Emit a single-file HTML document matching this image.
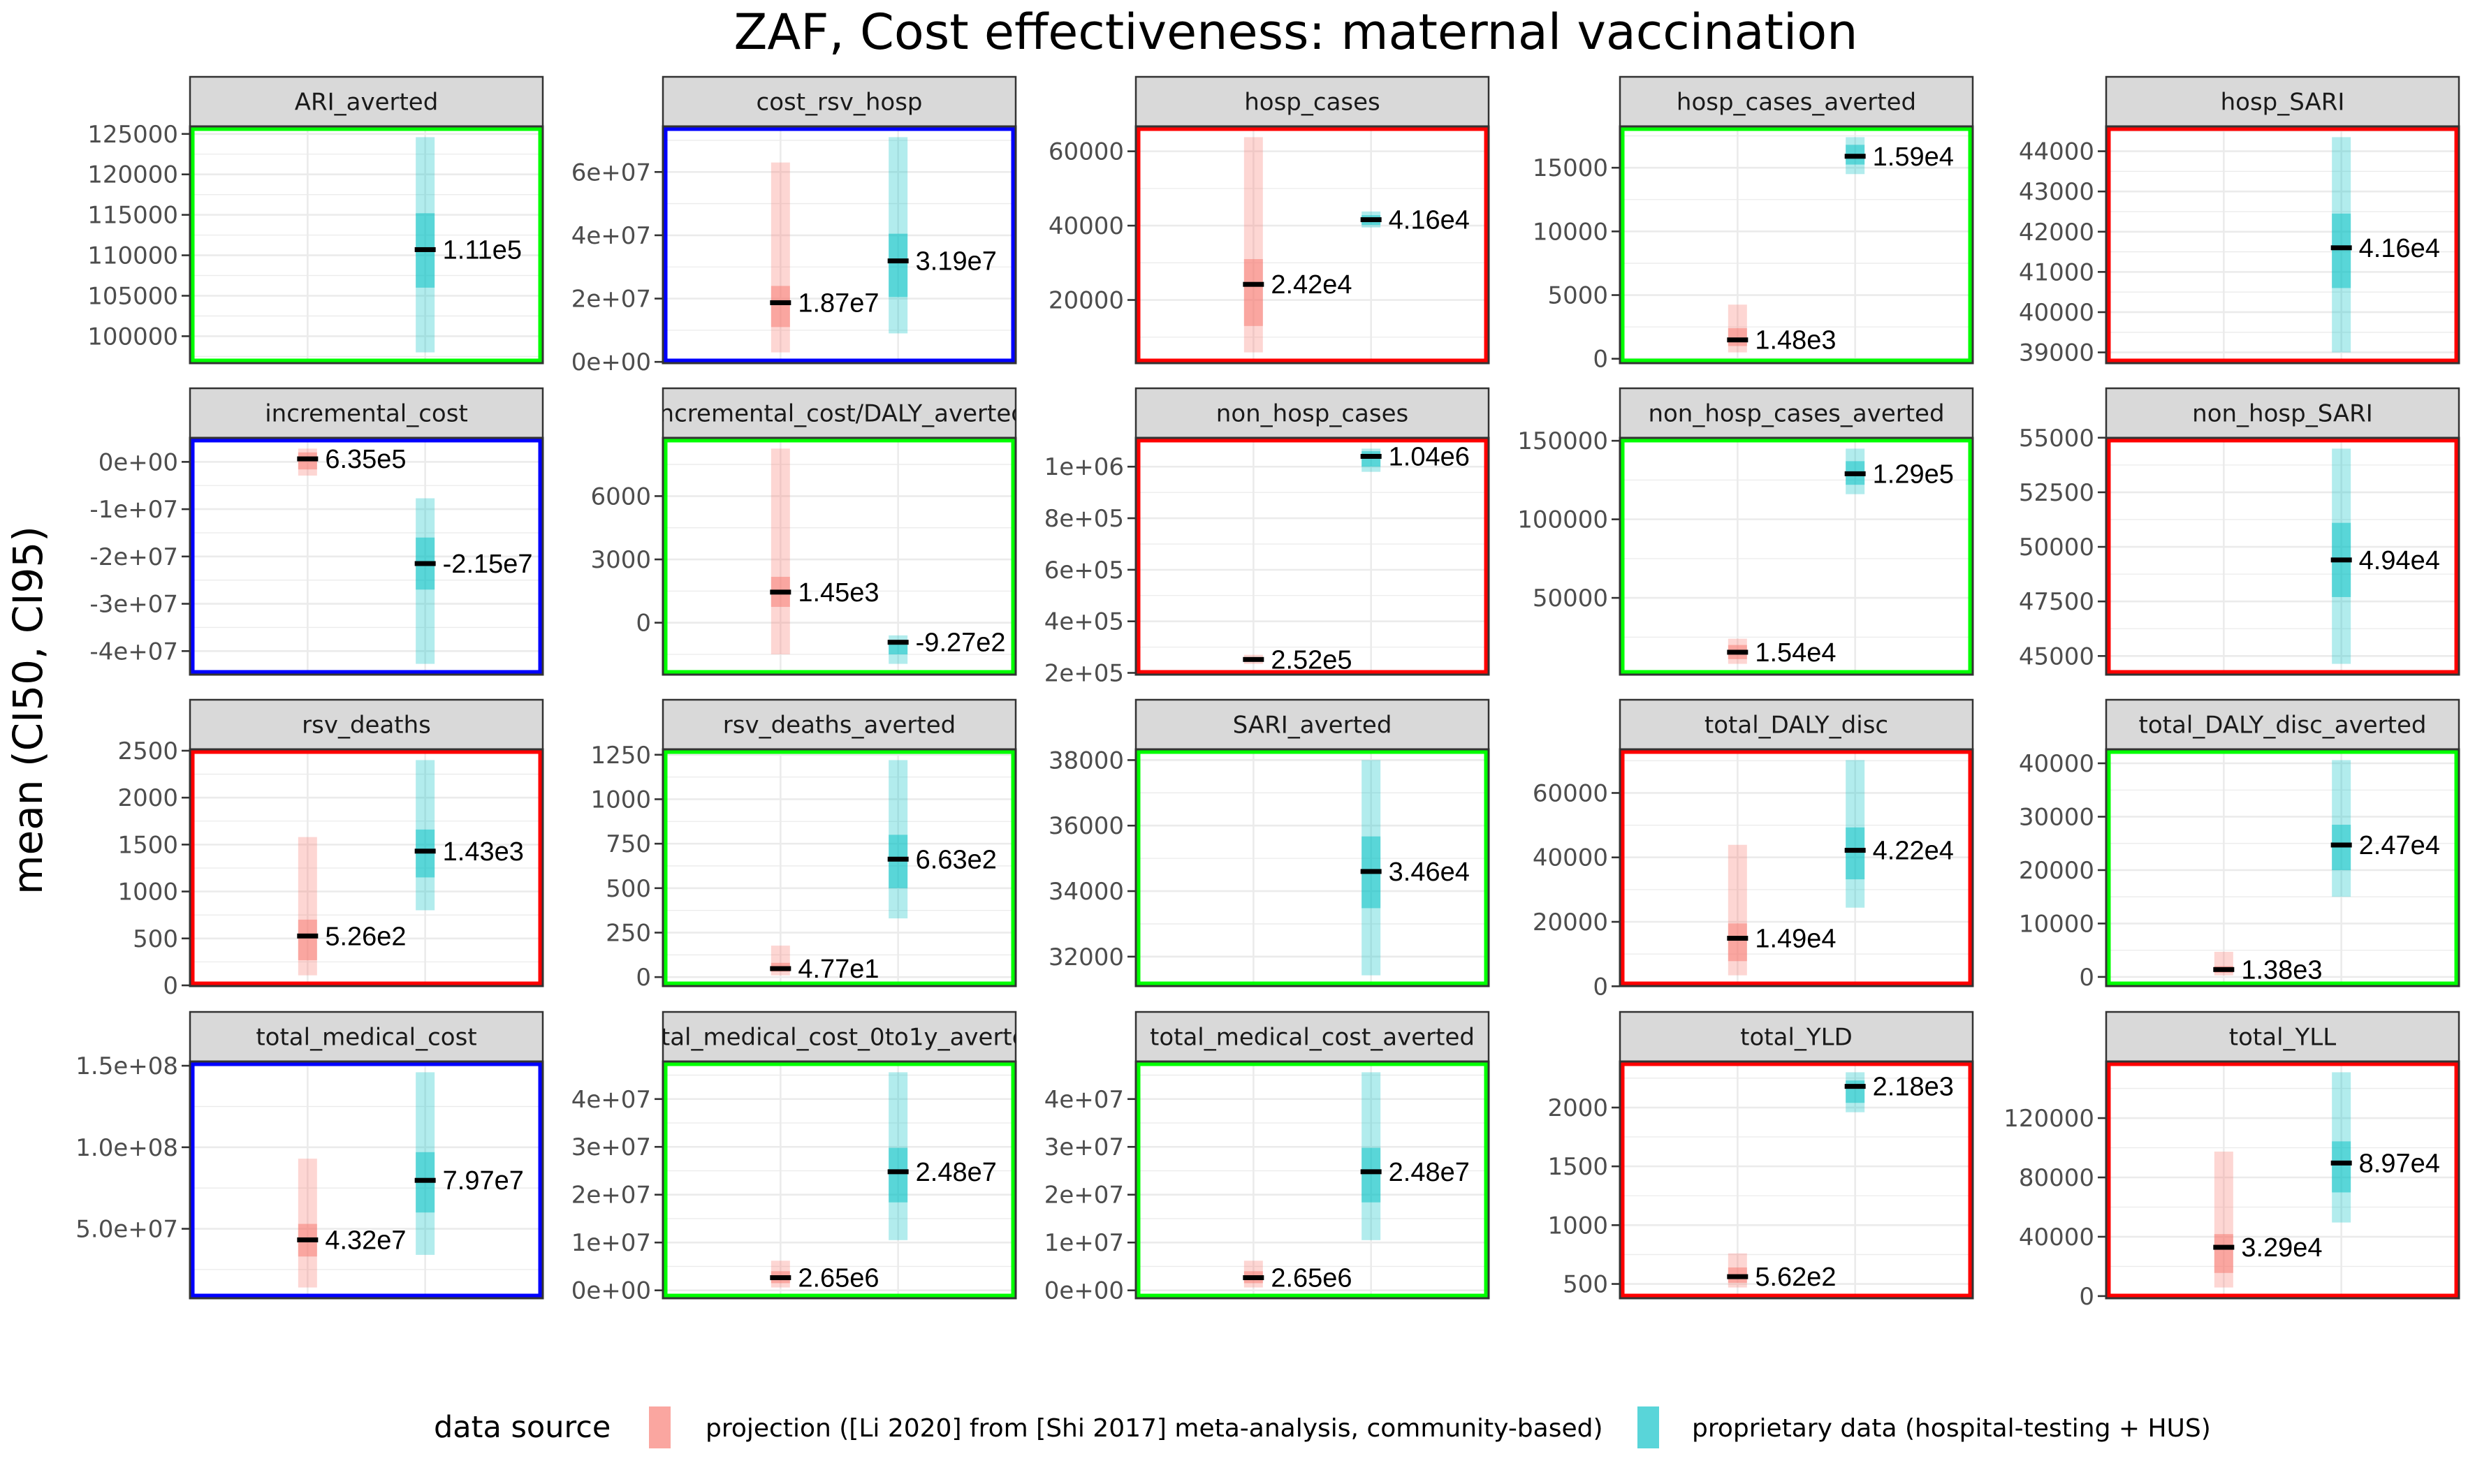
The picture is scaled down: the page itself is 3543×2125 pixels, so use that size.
<!DOCTYPE html>
<html><head><meta charset="utf-8">
<style>
html,body{margin:0;padding:0;background:#fff;}
svg{display:block;font-family:"DejaVu Sans","Liberation Sans",sans-serif;}
</style></head>
<body>
<svg id="chart" width="3543" height="2125" viewBox="0 0 3543 2125" xmlns="http://www.w3.org/2000/svg">
<rect x="0" y="0" width="3543" height="2125" fill="#fff"/>
<text x="1855" y="70" text-anchor="middle" font-size="70" fill="#000">ZAF, Cost effectiveness: maternal vaccination</text>
<text transform="translate(60,1017) rotate(-90)" text-anchor="middle" font-size="58" fill="#000">mean (CI50, CI95)</text>
<g id="panels"></g>
<g>
<text x="621" y="2058" font-size="43" fill="#000">data source</text>
<rect x="929" y="2014" width="31" height="60" fill="#F8766D" fill-opacity="0.65"/>
<text x="1010" y="2057" font-size="36" fill="#000">projection ([Li 2020] from [Shi 2017] meta-analysis, community-based)</text>
<rect x="2344" y="2014" width="31" height="60" fill="#00BFC4" fill-opacity="0.65"/>
<text x="2422" y="2057" font-size="36" fill="#000">proprietary data (hospital-testing + HUS)</text>
</g>
</svg>
<script>
const panelNames = ["ARI_averted","cost_rsv_hosp","hosp_cases","hosp_cases_averted","hosp_SARI","incremental_cost","incremental_cost/DALY_averted","non_hosp_cases","non_hosp_cases_averted","non_hosp_SARI","rsv_deaths","rsv_deaths_averted","SARI_averted","total_DALY_disc","total_DALY_disc_averted","total_medical_cost","total_medical_cost_0to1y_averted","total_medical_cost_averted","total_YLD","total_YLL"];
const borderColors = ["#00ff00","#0000ff","#ff0000","#00ff00","#ff0000","#0000ff","#00ff00","#ff0000","#00ff00","#ff0000","#ff0000","#00ff00","#00ff00","#ff0000","#00ff00","#0000ff","#00ff00","#00ff00","#ff0000","#ff0000"];
// projection series: [lo95, lo50, mean, hi50, hi95]
const projStats = [null,[3e6,1.1e7,1.87e7,2.4e7,6.3e7],[5900,13000,24200,31000,63800],[500,1000,1480,2400,4250],null,
 [-2.9e6,-1.6e6,6.35e5,2.0e6,2.8e6],[-1500,750,1450,2175,8250],[2.35e5,2.45e5,2.52e5,2.6e5,2.7e5],[8000,11000,15400,20000,24000],null,
 [107,268,526,700,1580],[10,31,47.7,80,177],null,[3400,7800,14900,19500,43900],[300,800,1380,2000,4700],
 [1.4e7,3.3e7,4.32e7,5.3e7,9.3e7],[6e5,1.5e6,2.65e6,4e6,6.2e6],[6e5,1.5e6,2.65e6,4e6,6.2e6],[470,510,562,640,760],[5800,15600,32900,41800,97400]];
const projLabels = ["","1.87e7","2.42e4","1.48e3","","6.35e5","1.45e3","2.52e5","1.54e4","","5.26e2","4.77e1","","1.49e4","1.38e3","4.32e7","2.65e6","2.65e6","5.62e2","3.29e4"];
// proprietary series: [lo95, lo50, mean, hi50, hi95]
const propStats = [[98000,106000,110700,115200,124600],[9e6,2.05e7,3.19e7,4.05e7,7.1e7],[39500,40200,41600,42800,43800],[14500,15250,15900,16800,17400],[39000,40600,41600,42450,44350],
 [-4.27e7,-2.7e7,-2.15e7,-1.6e7,-7.7e6],[-1950,-1500,-927,-825,-600],[9.8e5,1.0e6,1.04e6,1.06e6,1.07e6],[116000,122000,129000,137000,145000],[44640,47700,49400,51100,54500],
 [800,1150,1430,1660,2400],[330,500,663,800,1220],[31430,33480,34600,35670,38000],[24400,33200,42200,49300,70200],[15000,20000,24700,28500,40600],
 [3.4e7,6e7,7.97e7,9.7e7,1.46e8],[1.05e7,1.84e7,2.48e7,2.98e7,4.56e7],[1.05e7,1.84e7,2.48e7,2.98e7,4.56e7],[1960,2040,2180,2230,2300],[49600,69900,89700,104300,150900]];
const propLabels = ["1.11e5","3.19e7","4.16e4","1.59e4","4.16e4","-2.15e7","-9.27e2","1.04e6","1.29e5","4.94e4","1.43e3","6.63e2","3.46e4","4.22e4","2.47e4","7.97e7","2.48e7","2.48e7","2.18e3","8.97e4"];
const tickValues = [[100000,105000,110000,115000,120000,125000],[0,2e7,4e7,6e7],[20000,40000,60000],[0,5000,10000,15000],[39000,40000,41000,42000,43000,44000],
 [-4e7,-3e7,-2e7,-1e7,0],[0,3000,6000],[2e5,4e5,6e5,8e5,1e6],[50000,100000,150000],[45000,47500,50000,52500,55000],
 [0,500,1000,1500,2000,2500],[0,250,500,750,1000,1250],[32000,34000,36000,38000],[0,20000,40000,60000],[0,10000,20000,30000,40000],
 [5e7,1e8,1.5e8],[0,1e7,2e7,3e7,4e7],[0,1e7,2e7,3e7,4e7],[500,1000,1500,2000],[0,40000,80000,120000]];
const tickLabels = [["100000","105000","110000","115000","120000","125000"],["0e+00","2e+07","4e+07","6e+07"],["20000","40000","60000"],["0","5000","10000","15000"],["39000","40000","41000","42000","43000","44000"],
 ["-4e+07","-3e+07","-2e+07","-1e+07","0e+00"],["0","3000","6000"],["2e+05","4e+05","6e+05","8e+05","1e+06"],["50000","100000","150000"],["45000","47500","50000","52500","55000"],
 ["0","500","1000","1500","2000","2500"],["0","250","500","750","1000","1250"],["32000","34000","36000","38000"],["0","20000","40000","60000"],["0","10000","20000","30000","40000"],
 ["5.0e+07","1.0e+08","1.5e+08"],["0e+00","1e+07","2e+07","3e+07","4e+07"],["0e+00","1e+07","2e+07","3e+07","4e+07"],["500","1000","1500","2000"],["0","40000","80000","120000"]];

const NS = "http://www.w3.org/2000/svg";
const colLeft = [272, 949, 1626, 2319, 3015];
const rowTop = [181, 627, 1073, 1520];
const PW = 505, PH = 339, STRIP = 71;
const root = document.getElementById('panels');
function mk(tag, attrs, parent){ const e=document.createElementNS(NS,tag); for(const k in attrs) e.setAttribute(k,attrs[k]); (parent||root).appendChild(e); return e; }

panelNames.forEach((name, i) => {
  const c = i % 5, r = Math.floor(i / 5);
  const L = colLeft[c], T = rowTop[r];
  const g = mk('g', {});
  
  
  const series = [projStats[i], propStats[i]].filter(s => s);
  let mn = Infinity, mx = -Infinity;
  series.forEach(s => { mn = Math.min(mn, s[0]); mx = Math.max(mx, s[4]); });
  const pad = (mx - mn) * 0.05; const d0 = mn - pad, d1 = mx + pad;
  const yS = v => T + PH - (v - d0) / (d1 - d0) * PH;
  const xS = k => L + PW * k / 3;
  const clipId = 'clip' + i;
  const cp = mk('clipPath', {id: clipId}, g); mk('rect', {x: L, y: T - STRIP, width: PW, height: STRIP}, cp);
  const strip = mk('rect', {x: L, y: T - STRIP, width: PW, height: STRIP, fill: '#d9d9d9', stroke: '#333', 'stroke-width': 2.5}, g);
  
  
  const st = mk('text', {x: L + PW/2, y: T - STRIP/2 + 12, 'text-anchor': 'middle', 'font-size': 34, fill: '#1a1a1a', 'clip-path': 'url(#' + clipId + ')'}, g);
  st.textContent = name;
  
  
  mk('rect', {x: L, y: T, width: PW, height: PH, fill: '#fff'}, g);
  const tv = tickValues[i];
  const step = tv.length > 1 ? tv[1] - tv[0] : 1;
  const minors = [];
  for (let k = -1; k < tv.length; k++) minors.push((k < 0 ? tv[0] - step : tv[k]) + step / 2);
  minors.forEach(v => { if (v > d0 && v < d1) mk('line', {x1: L, x2: L + PW, y1: yS(v), y2: yS(v), stroke: '#ebebeb', 'stroke-width': 1.3}, g); });
  tv.forEach(v => mk('line', {x1: L, x2: L + PW, y1: yS(v), y2: yS(v), stroke: '#ebebeb', 'stroke-width': 2.6}, g));
  [1, 2].forEach(k => mk('line', {x1: xS(k), x2: xS(k), y1: T, y2: T + PH, stroke: '#ebebeb', 'stroke-width': 2.6}, g));
  const specs = [[projStats[i], projLabels[i], '#F8766D', 1, 'projection'], [propStats[i], propLabels[i], '#00BFC4', 2, 'proprietary']];
  specs.forEach(([s, lab, col, k, key]) => {
    if (!s) return;
    const cx = xS(k), bw = 27;
    const b95 = mk('rect', {x: cx - bw/2, y: yS(s[4]), width: bw, height: yS(s[0]) - yS(s[4]), fill: col, 'fill-opacity': 0.3}, g);
    
    
    const b50 = mk('rect', {x: cx - bw/2, y: yS(s[3]), width: bw, height: yS(s[1]) - yS(s[3]), fill: col, 'fill-opacity': 0.5}, g);
    
    
    const m = mk('rect', {x: cx - 15, y: yS(s[2]) - 3.5, width: 30, height: 7, fill: '#000'}, g);
    
    
    const t = mk('text', {x: cx + 25, y: yS(s[2]) + 13, 'font-size': 38, fill: '#000', 'font-family': '"Liberation Sans", sans-serif'}, g);
    t.textContent = lab;
    
    
  });
  mk('rect', {x: L, y: T, width: PW, height: PH, fill: 'none', stroke: '#333', 'stroke-width': 3}, g);
  const br = mk('rect', {x: L + 4, y: T + 4, width: PW - 8, height: PH - 8, fill: 'none', stroke: borderColors[i], 'stroke-width': 5}, g);
  
  
  tv.forEach((v, j) => {
    mk('line', {x1: L - 12, x2: L, y1: yS(v), y2: yS(v), stroke: '#333', 'stroke-width': 2.6}, g);
    const tl = mk('text', {x: L - 17, y: yS(v) + 12, 'text-anchor': 'end', 'font-size': 34, fill: '#4d4d4d'}, g);
    tl.textContent = tickLabels[i][j];
    
    
  });
});
</script>
</body></html>
